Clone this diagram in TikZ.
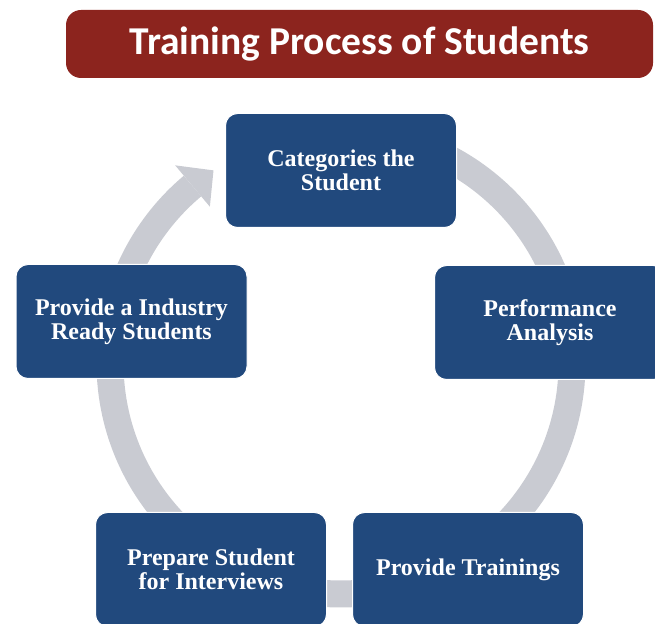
\documentclass[tikz,border=0pt]{standalone}
\usepackage{fontspec}
\newfontfamily\titlefont{Carlito}
\newfontfamily\stagefont{Liberation Serif}
\usetikzlibrary{positioning}
\definecolor{stageblue}{RGB}{33,73,125}
\definecolor{ringgray}{RGB}{201,203,210}
\definecolor{titlered}{RGB}{140,36,30}
\tikzset{
	stage/.style={shape=rectangle,rounded corners=12pt,fill=stageblue,draw=white,line width=1pt,text=white,minimum width=231pt,minimum height=114pt,align=center,font=\stagefont\bfseries\fontsize{24}{24}\selectfont},
	ring/.style={ringgray,line width=27pt}
}
\begin{document}
\begin{tikzpicture}[x=1pt,y=1pt]
	\useasboundingbox (0,0) rectangle (655,623);
	\coordinate (mid) at (341,260);

	\draw[ring] ([shift={(95:231pt)}]mid) arc[start angle=95,end angle=-230,radius=231pt];
	\fill[ringgray] ([shift={(130:204pt)}]mid) -- ([shift={(123.5:231pt)}]mid) -- ([shift={(130:258pt)}]mid) -- cycle;

	\node[shape=rectangle,rounded corners=15pt,fill=titlered,text=white,minimum width=587pt,minimum height=68pt,font=\titlefont\bfseries\fontsize{39.5}{44}\selectfont] (title) at (359.5,579) {Training Process of Students};

	\node[stage] (categ) at (341,452.5) {Categories the\\Student};
	\node[stage] (perf) at (550,300.5) {Performance\\Analysis};
	\node[stage] (ready) at (131.5,301.5) {Provide a Industry\\Ready Students};
	\node[stage] (prep) at (211,53.5) {Prepare Student\\for Interviews};
	\node[stage] (train) [right=25pt of prep] {Provide Trainings};
\end{tikzpicture}
\end{document}
